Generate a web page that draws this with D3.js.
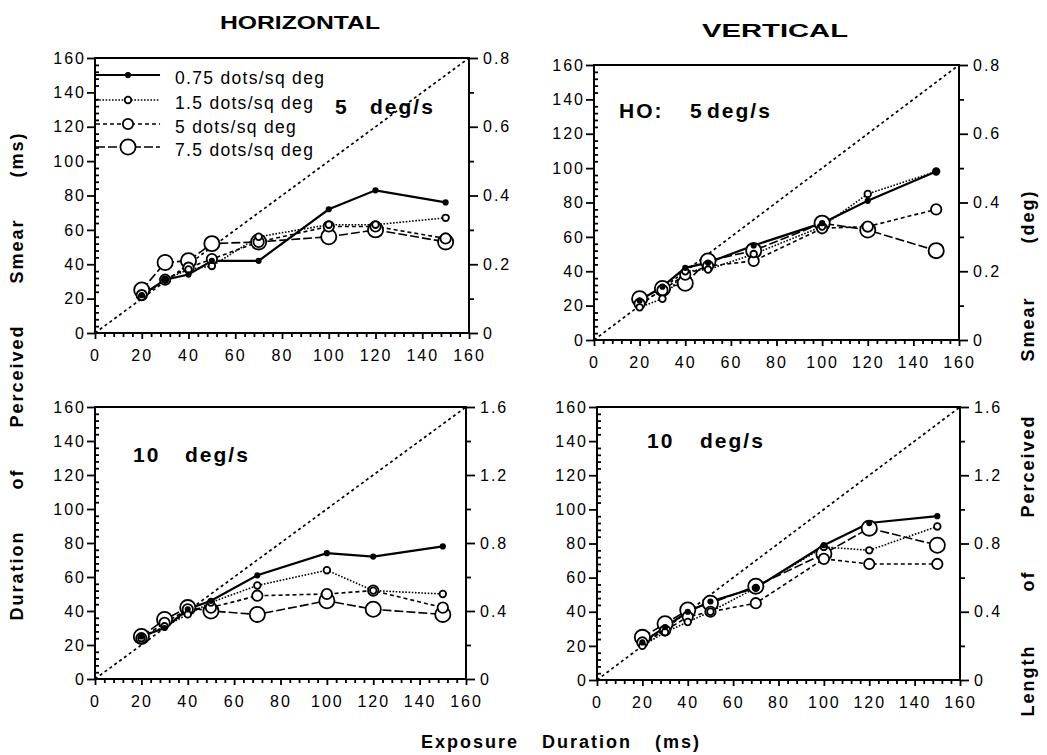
<!DOCTYPE html>
<html><head><meta charset="utf-8">
<script src="https://cdn.jsdelivr.net/npm/d3@7"></script>
<style>
body{margin:0;background:#fff;}
svg{display:block;font-family:"Liberation Sans",Arial,Helvetica,sans-serif;}
</style></head><body>
<svg id="c" width="1047" height="755"></svg>
<script>
// ---------------- DATA ----------------
const exposure = [20, 30, 40, 50, 70, 100, 120, 150];
const densityLabels = ["0.75 dots/sq deg", "1.5 dots/sq deg", "5 dots/sq deg", "7.5 dots/sq deg"];
const columnTitles = ["HORIZONTAL", "VERTICAL"];
const xTicks = [0, 20, 40, 60, 80, 100, 120, 140, 160];
const yTicks = [0, 20, 40, 60, 80, 100, 120, 140, 160];
const rightTicks5 = [0, 0.2, 0.4, 0.6, 0.8];
const rightTicks10 = [0, 0.4, 0.8, 1.2, 1.6];

// Horizontal, 5 deg/s
const h5_075 = [22, 31, 34, 42, 42, 72, 83, 76];
const h5_15  = [21, 31, 37, 39, 56, 63, 63, 67];
const h5_5   = [22, 31, 38, 43, 53, 62, 62, 55];
const h5_75  = [25, 41, 42, 52, 53, 56, 60, 53];
// Vertical, HO 5 deg/s
const v5_075 = [23, 31, 42, 45, 55, 68, 81, 98];
const v5_15  = [19, 24, 40, 41, 50, 66, 85, 98];
const v5_5   = [21, 29, 38, 43, 46, 65, 66, 76];
const v5_75  = [24, 30, 33, 46, 52, 68, 64, 52];
// Horizontal, 10 deg/s
const h10_075 = [25, 30, 41, 46, 61, 74, 72, 78];
const h10_15  = [24, 31, 38, 45, 55, 64, 52, 50];
const h10_5   = [24, 33, 41, 42, 49, 50, 52, 42];
const h10_75  = [25, 35, 42, 40, 38, 46, 41, 38];
// Vertical, 10 deg/s
const v10_075 = [22, 31, 40, 46, 54, 79, 92, 96];
const v10_15  = [20, 28, 34, 40, 54, 78, 76, 90];
const v10_5   = [22, 29, 37, 40, 45, 71, 68, 68];
const v10_75  = [25, 33, 41, 45, 55, 74, 89, 79];

// ---------------- LAYOUT / STYLE ----------------
const panels = [
  {x0: 95, x1: 469, y0: 58, y1: 333, series: [h5_075, h5_15, h5_5, h5_75], rmax: 0.8, rt: rightTicks5, rminor: [0.1, 0.3, 0.5, 0.7],
   label: [["5", 335], ["deg/s", 370]], labelY: 114, legend: true},
  {x0: 594, x1: 959, y0: 65, y1: 340, series: [v5_075, v5_15, v5_5, v5_75], rmax: 0.8, rt: rightTicks5, rminor: [0.1, 0.3, 0.5, 0.7],
   label: [["HO:", 619], ["5", 690], ["deg/s", 707]], labelY: 118},
  {x0: 95, x1: 466, y0: 407, y1: 679, series: [h10_075, h10_15, h10_5, h10_75], rmax: 1.6, rt: rightTicks10, rminor: [0.2, 0.6, 1.0, 1.4],
   label: [["10", 133], ["deg/s", 185]], labelY: 462},
  {x0: 597, x1: 960, y0: 407, y1: 680, series: [v10_075, v10_15, v10_5, v10_75], rmax: 1.6, rt: rightTicks10, rminor: [0.2, 0.6, 1.0, 1.4],
   label: [["10", 647], ["deg/s", 700]], labelY: 448}
];
const styles = [
  {dash: null, w: 2.2, r: 2.2, fill: "#000"},
  {dash: "1.6,1.6", w: 1.6, r: 3.3, fill: "#fff"},
  {dash: "4,3", w: 1.6, r: 5.2, fill: "#fff"},
  {dash: "9,3", w: 1.6, r: 7.6, fill: "#fff"}
];
const drawOrder = [3, 2, 1, 0];

const svg = d3.select("#c");
const tickFont = {size: "16px", ls: "2px"};

panels.forEach(p => {
  const x = d3.scaleLinear().domain([0, 160]).range([p.x0, p.x1]);
  const y = d3.scaleLinear().domain([0, 160]).range([p.y1, p.y0]);
  const yr = d3.scaleLinear().domain([0, p.rmax]).range([p.y1, p.y0]);
  const g = svg.append("g");

  // minor ticks
  const minor = d3.range(0, 161, 4).filter(v => v % 20 !== 0);
  g.append("g").attr("transform", `translate(0,${p.y1})`)
    .call(d3.axisBottom(x).tickValues(minor).tickSize(4).tickFormat(""));
  g.append("g").attr("transform", `translate(${p.x0},0)`)
    .call(d3.axisLeft(y).tickValues(minor).tickSize(-4).tickFormat(""));
  g.append("g").attr("transform", `translate(${p.x1},0)`)
    .call(d3.axisRight(yr).tickValues(p.rminor).tickSize(5).tickFormat(""));

  // major ticks
  g.append("g").attr("transform", `translate(0,${p.y1})`)
    .call(d3.axisBottom(x).tickValues(xTicks).tickSize(6).tickPadding(11));
  g.append("g").attr("transform", `translate(${p.x0},0)`)
    .call(d3.axisLeft(y).tickValues(yTicks).tickSize(8).tickPadding(1));
  g.append("g").attr("transform", `translate(${p.x1},0)`)
    .call(d3.axisRight(yr).tickValues(p.rt).tickSize(9).tickPadding(5)
      .tickFormat(d => d === 0 ? "0" : d3.format(".1f")(d)));

  g.selectAll(".domain").remove();
  g.selectAll(".tick line").attr("stroke", "#000").attr("stroke-width", 1.8);
  g.selectAll(".tick text").attr("fill", "#000")
    .style("font-size", tickFont.size).style("letter-spacing", tickFont.ls)
    .style("font-family", '"Liberation Sans",Arial,sans-serif');

  // frame
  g.append("rect").attr("x", p.x0).attr("y", p.y0)
    .attr("width", p.x1 - p.x0).attr("height", p.y1 - p.y0)
    .attr("fill", "none").attr("stroke", "#000").attr("stroke-width", 2);

  // diagonal identity line
  g.append("path").datum([0, 160])
    .attr("d", d3.line().x(d => x(d)).y(d => y(d)))
    .attr("stroke", "#000").attr("stroke-width", 1.7).attr("stroke-dasharray", "3,3").attr("fill", "none");

  // series lines
  drawOrder.forEach(i => {
    const s = styles[i];
    g.append("path").datum(p.series[i])
      .attr("d", d3.line().x((d, k) => x(exposure[k])).y(d => y(d)))
      .attr("fill", "none").attr("stroke", "#000").attr("stroke-width", s.w)
      .attr("stroke-dasharray", s.dash);
  });
  // markers
  drawOrder.forEach(i => {
    const s = styles[i];
    g.append("g").selectAll("circle").data(p.series[i]).join("circle")
      .attr("cx", (d, k) => x(exposure[k])).attr("cy", d => y(d))
      .attr("r", s.r).attr("fill", s.fill).attr("stroke", "#000").attr("stroke-width", 1.8);
  });

  // panel label
  const t = g.append("text").attr("y", p.labelY)
    .style("font-size", "21px").style("font-weight", "bold").style("letter-spacing", "2px");
  p.label.forEach(([txt, lx]) => t.append("tspan").attr("x", lx).text(txt));

  // legend
  if (p.legend) {
    const base = [84, 109, 133, 156];
    densityLabels.forEach((lab, i) => {
      const s = styles[i];
      const ly = base[i] - 9;
      g.append("line").attr("x1", p.x0 + 1).attr("x2", 160).attr("y1", ly).attr("y2", ly)
        .attr("stroke", "#000").attr("stroke-width", s.w).attr("stroke-dasharray", s.dash);
      g.append("circle").attr("cx", 128).attr("cy", ly).attr("r", s.r)
        .attr("fill", s.fill).attr("stroke", "#000").attr("stroke-width", 1.8);
      g.append("text").attr("x", 175).attr("y", base[i]).text(lab)
        .style("font-size", "17.5px").style("letter-spacing", "1.3px");
    });
  }
});

// column titles
svg.append("text").attr("x", 300).attr("y", 29).attr("text-anchor", "middle")
  .attr("textLength", 160).attr("lengthAdjust", "spacingAndGlyphs")
  .style("font-size", "19px").style("font-weight", "bold").text(columnTitles[0]);
svg.append("text").attr("x", 775).attr("y", 37).attr("text-anchor", "middle")
  .attr("textLength", 146).attr("lengthAdjust", "spacingAndGlyphs")
  .style("font-size", "19px").style("font-weight", "bold").text(columnTitles[1]);

// axis titles
const titleStyle = sel => sel.style("font-size", "18px").style("font-weight", "bold").style("letter-spacing", "2px");
svg.append("text").attr("transform", "translate(23,376) rotate(-90)").attr("text-anchor", "middle")
  .call(titleStyle).style("word-spacing", "34px").text("Duration of Perceived Smear (ms)");
svg.append("text").attr("transform", "translate(1034,453) rotate(-90)").attr("text-anchor", "middle")
  .call(titleStyle).style("word-spacing", "46px").text("Length of Perceived Smear (deg)");
svg.append("text").attr("x", 561).attr("y", 748).attr("text-anchor", "middle")
  .call(titleStyle).style("word-spacing", "16px").text("Exposure Duration (ms)");
</script></body></html>
